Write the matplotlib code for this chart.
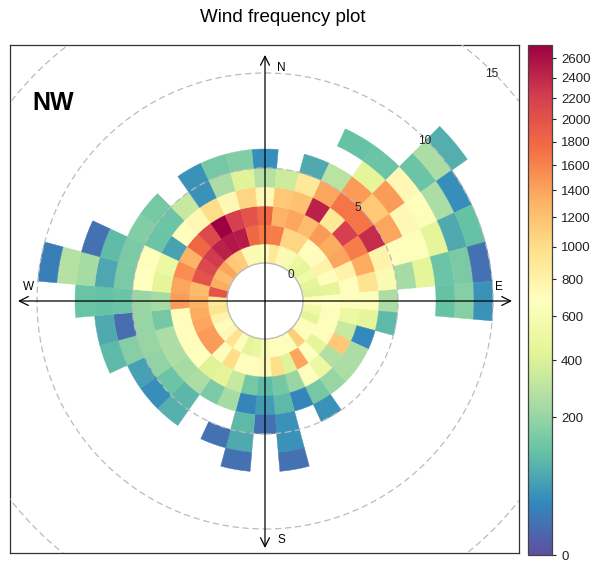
import numpy as np
import matplotlib
matplotlib.use("Agg")
import matplotlib.pyplot as plt
from matplotlib.patches import Wedge, Circle
from matplotlib.colors import PowerNorm
from matplotlib.cm import ScalarMappable

plt.rcParams['font.family'] = ['Liberation Sans', 'DejaVu Sans']

nan = np.nan

# Wind direction sectors (degrees, clockwise from north), 10 degree bins
directions = list(range(0, 360, 10))

# Counts per wind speed interval (1 unit wide, starting at 0) for each direction
counts = [
    [700, 1650, 1800, 750, 280, 35],                               # 0
    [900, 1650, 1300, 1150, 350],                                  # 10
    [750, 1050, 1400, 1200, 900, 70],                              # 20
    [600, 1050, 1250, 2450, 1400, 290, nan, 110],                  # 30
    [500, 700, 1450, 900, 1700, 1450, 450, 120],                   # 40
    [450, 700, 1350, 2200, 1700, 1150, 1450, 750, 120, 250, 75],   # 50
    [550, 800, 1400, 1650, 2350, 1400, 750, 650, 250, 35],         # 60
    [450, 700, 800, 1350, 800, 700, 650, 450, 70, 110],            # 70
    [420, 450, 700, 950, 600, 240, 450, 120, 150, 10],             # 80
    [650, 680, 700, 650, 250, nan, nan, 110, 170, 40],             # 90
    [550, 700, 500, 450, 95],                                      # 100
    [450, 650, 330, 30],                                           # 110
    [650, 700, 1150, 250],                                         # 120
    [650, 450, 270, 250],                                          # 130
    [1100, 680, 500, 200],                                         # 140
    [650, 1400, 700, 140, 40],                                     # 150
    [700, 420, 210, 25],                                           # 160
    [700, 1000, 140, 95, 40, 40, 10],                              # 170
    [600, 750, 100, 50, 10],                                       # 180
    [480, 700, 140, 25, 95, 70, 10],                               # 190
    [450, 700, 330, 240, nan, 10],                                 # 200
    [700, 1000, 450, 150],                                         # 210
    [950, 700, 420, 250, 90, 80],                                  # 220
    [750, 1450, 680, 240, 120, 35],                                # 230
    [700, 1450, 700, 250, 190, 55],                                # 240
    [800, 1400, 700, 250, 200, 170, 95],                           # 250
    [950, 1350, 700, 140, 200, 8, 70],                             # 260
    [900, 1300, 1450, 240, 210, 120, 110, 115],                    # 270
    [2000, 1250, 1400, 450, 680, 150, 65, 240, 280, 20],           # 280
    [1350, 2000, 1550, 500, 650, 150, 100, 10],                    # 290
    [1250, 2100, 1300, 60, 120, 160],                              # 300
    [1400, 2250, 1800, 700, 120, 140],                             # 310
    [1150, 2450, 2100, 750, 330],                                  # 320
    [1100, 2550, 2720, 1000, 40, 40],                              # 330
    [750, 2500, 2200, 750, 250, 140],                              # 340
    [600, 1800, 2000, 1050, 420, 160],                             # 350
]

offset = 2.0            # radius of the empty centre, in wind speed units
sector_width = 10
grid_ws = [5, 10, 15]
ring_labels = [0, 5, 10, 15]
cbar_ticks = list(range(0, 2601, 200))
count_max = 2740

fig = plt.figure(figsize=(5.91, 5.64), dpi=100)
ax = fig.add_axes([10 / 591, 1 - 553 / 564, 509 / 591, 508 / 564])
ax.set_xlim(-255 / 19, 254 / 19)
ax.set_ylim(-252 / 19, 256 / 19)
ax.set_xticks([])
ax.set_yticks([])
for sp in ax.spines.values():
    sp.set_color('#333333')
    sp.set_linewidth(0.9)

cmap = plt.get_cmap('Spectral_r')
norm = PowerNorm(gamma=0.5, vmin=0, vmax=count_max)

for wd, row in zip(directions, counts):
    t1 = 90 - wd - sector_width / 2
    t2 = 90 - wd + sector_width / 2
    for k, c in enumerate(row):
        if np.isnan(c) or c <= 0:
            continue
        col = cmap(norm(c))
        ax.add_patch(Wedge((0, 0), offset + k + 1, t1, t2, width=1,
                           facecolor=col, edgecolor=col, linewidth=0.3,
                           zorder=2))

# Grid circles
ax.add_patch(Circle((0, 0), offset, fill=False, edgecolor='#BBBBBB',
                    linewidth=1.0, zorder=3))
for g in grid_ws:
    ax.add_patch(Circle((0, 0), offset + g, fill=False, edgecolor='#BBBBBB',
                        linewidth=0.9, linestyle=(0, (5, 3)), zorder=3))
for g in ring_labels:
    rr = offset + g - 0.1
    ax.text(rr * np.cos(np.pi / 4), rr * np.sin(np.pi / 4), str(g),
            fontsize=8.5, ha='center', va='center', color='#222222', zorder=5)

# Compass axes
ax.annotate('', xy=(0, 12.95), xytext=(0, -13.0),
            arrowprops=dict(arrowstyle='<->', lw=0.9, color='black',
                            mutation_scale=16, shrinkA=0, shrinkB=0), zorder=4)
ax.annotate('', xy=(13.0, 0), xytext=(-13.0, 0),
            arrowprops=dict(arrowstyle='<->', lw=0.9, color='black',
                            mutation_scale=16, shrinkA=0, shrinkB=0), zorder=4)
ax.text(0.84, 12.26, 'N', fontsize=8.5, ha='center', va='center')
ax.text(0.84, -12.6, 'S', fontsize=8.5, ha='center', va='center')
ax.text(-12.47, 0.74, 'W', fontsize=8.5, ha='center', va='center')
ax.text(12.3, 0.74, 'E', fontsize=8.5, ha='center', va='center')

ax.text(-11.16, 10.42, 'NW', fontsize=18, fontweight='bold',
        ha='center', va='center')

fig.text(0.479, 1 - 18 / 564, 'Wind frequency plot', fontsize=13.5,
         ha='center', va='center')

cax = fig.add_axes([528 / 591, 1 - 555 / 564, 24 / 591, 510 / 564])
sm = ScalarMappable(norm=norm, cmap=cmap)
cb = fig.colorbar(sm, cax=cax, ticks=cbar_ticks)
cb.outline.set_edgecolor('#444444')
cb.outline.set_linewidth(0.9)
cax.tick_params(labelsize=9.5, length=3, width=0.8, colors='#222222')

fig.savefig('out.png', dpi=100)
